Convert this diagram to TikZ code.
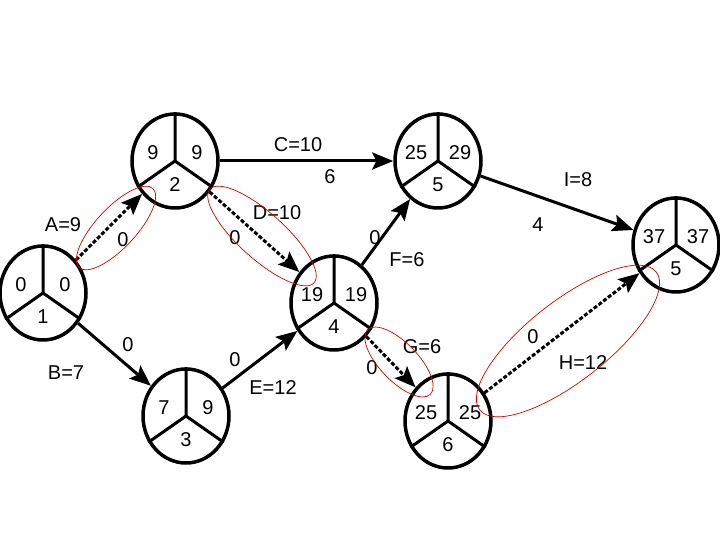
\documentclass[tikz,border=0pt]{standalone}
\usepackage{fontspec}
\setmainfont{Liberation Sans}
\usepackage{tikz}
\usetikzlibrary{shapes.geometric, arrows.meta}
\tikzstyle{event} = [ellipse, draw=black, line width=3.5pt, minimum width=86pt, minimum height=94pt, inner sep=0pt]
\tikzstyle{divider} = [line width=3pt, draw=black]
\tikzstyle{evnum} = [font=\fontsize{20}{24}\selectfont, inner sep=0pt]
\tikzstyle{arrow} = [-{Stealth[length=21pt, width=17pt, inset=4pt]}, line width=3pt, draw=black]
\tikzstyle{critarrow} = [arrow, dash pattern=on 4pt off 2pt]
\tikzstyle{arrowlabel} = [font=\fontsize{20}{24}\selectfont, inner sep=1pt]
\tikzstyle{critical} = [draw=red!85!black, line width=0.7pt]
% event circle: name, position, earliest, latest, number
\newcommand{\evnode}[5]{%
  \node[event] (#1) at (#2) {};
  \draw[divider] (#1.center) -- (#1.north) (#1.center) -- (#1.215) (#1.center) -- (#1.325);
  \node[evnum] (#1-es) at ([xshift=-22pt, yshift=8pt]#1.center) {#3};
  \node[evnum] (#1-lf) at ([xshift=22pt, yshift=8pt]#1.center) {#4};
  \node[evnum] (#1-no) at ([yshift=-24pt]#1.center) {#5};
}

\begin{document}
\begin{tikzpicture}[x=1pt, y=1pt]
    \useasboundingbox (0,0) rectangle (720,540);
    % Nodes
    \evnode{n1}{43,247}{0}{0}{1}
    \evnode{n2}{175,379}{9}{9}{2}
    \evnode{n3}{186,124}{7}{9}{3}
    \evnode{n4}{334,237}{19}{19}{4}
    \evnode{n5}{438,379}{25}{29}{5}
    \evnode{n6}{448,119}{25}{25}{6}
    \evnode{n7}{676,295}{37}{37}{5}

    % Arrows
    \draw[critarrow] (n1) -- (n2);
    \draw[arrow] (n1) -- (n3);
    \draw[arrow] (n2) -- (n5);
    \draw[critarrow] (n2) -- (n4);
    \draw[arrow] (n3) -- (n4);
    \draw[arrow] (n4) -- (n5);
    \draw[critarrow] (n4) -- (n6);
    \draw[critarrow] (n6) -- (n7);
    \draw[arrow] (n5) -- (n7);

    % Labels
    \node[arrowlabel] (lblA) at (63,315) {A=9};
    \node[arrowlabel] (fltA) at (123,300) {0};
    \node[arrowlabel] (lblB) at (66,167) {B=7};
    \node[arrowlabel] (fltB) at (128,195) {0};
    \node[arrowlabel] (lblC) at (298,395) {C=10};
    \node[arrowlabel] (fltC) at (330,363) {6};
    \node[arrowlabel] (lblD) at (277,327) {D=10};
    \node[arrowlabel] (fltD) at (235,302) {0};
    \node[arrowlabel] (lblE) at (273,152) {E=12};
    \node[arrowlabel] (fltE) at (235,180) {0};
    \node[arrowlabel] (lblF) at (407,280) {F=6};
    \node[arrowlabel] (fltF) at (375,302) {0};
    \node[arrowlabel] (lblG) at (422,193) {G=6};
    \node[arrowlabel] (fltG) at (372,172) {0};
    \node[arrowlabel] (lblH) at (583,177) {H=12};
    \node[arrowlabel] (fltH) at (533,203) {0};
    \node[arrowlabel] (lblI) at (578,360) {I=8};
    \node[arrowlabel] (fltI) at (538,315) {4};

    % Critical path marks
    \draw[critical] (116,312) ellipse [x radius=54, y radius=20, rotate=47];
    \draw[critical] (262,304) ellipse [x radius=70, y radius=23, rotate=-42];
    \draw[critical] (399,178) ellipse [x radius=45, y radius=19, rotate=-46];
    \draw[critical] (568,199) ellipse [x radius=112, y radius=40, rotate=38];
\end{tikzpicture}
\end{document}
